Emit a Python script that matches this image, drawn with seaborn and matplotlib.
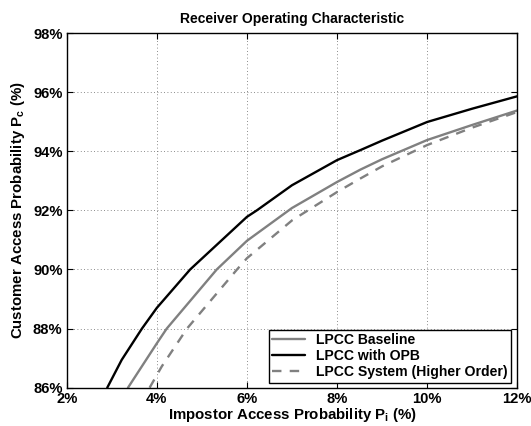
import matplotlib
matplotlib.use("Agg")
import matplotlib.pyplot as plt
import seaborn as sns
import pandas as pd
from matplotlib.ticker import FuncFormatter

# Data (percent)
opb_x = [2.90, 3.22, 3.67, 4.00, 4.74, 6.00, 6.22, 7.00, 8.00, 8.52, 9.00, 10.00, 11.00, 12.00]
opb_y = [86.00, 86.94, 88.00, 88.70, 90.00, 91.78, 92.00, 92.85, 93.70, 94.04, 94.36, 94.99, 95.44, 95.86]

base_x = [3.36, 4.00, 4.22, 5.33, 6.00, 7.00, 8.00, 8.52, 9.00, 10.00, 11.00, 12.00]
base_y = [86.00, 87.50, 88.00, 90.00, 90.97, 92.08, 92.96, 93.38, 93.73, 94.38, 94.89, 95.38]

high_x = [3.84, 4.11, 4.67, 5.78, 6.00, 7.00, 8.00, 8.52, 9.00, 10.00, 11.00, 12.00]
high_y = [86.00, 86.72, 88.00, 90.00, 90.38, 91.66, 92.62, 93.08, 93.49, 94.21, 94.80, 95.33]

x_ticks = [2, 4, 6, 8, 10, 12]
y_ticks = [86, 88, 90, 92, 94, 96, 98]

sns.set_style("ticks")
plt.rcParams['font.family'] = ['Liberation Sans', 'DejaVu Sans']
plt.rcParams['font.weight'] = 'bold'
plt.rcParams['text.color'] = 'black'
plt.rcParams['axes.labelcolor'] = 'black'
plt.rcParams['mathtext.fontset'] = 'custom'
plt.rcParams['mathtext.rm'] = 'Liberation Sans:bold'
plt.rcParams['mathtext.it'] = 'Liberation Sans:bold'
plt.rcParams['mathtext.bf'] = 'Liberation Sans:bold'

fig = plt.figure(figsize=(5.31, 4.26), dpi=100)
ax = fig.add_axes([0.1256, 0.0899, 0.8486, 0.8326])

df_base = pd.DataFrame({"x": base_x, "y": base_y})
df_opb = pd.DataFrame({"x": opb_x, "y": opb_y})
df_high = pd.DataFrame({"x": high_x, "y": high_y})

sns.lineplot(data=df_base, x="x", y="y", ax=ax, color="#808080", lw=1.7,
             sort=False, label="LPCC Baseline")
sns.lineplot(data=df_opb, x="x", y="y", ax=ax, color="black", lw=1.7,
             sort=False, label="LPCC with OPB")
sns.lineplot(data=df_high, x="x", y="y", ax=ax, color="#808080", lw=1.7,
             sort=False, label="LPCC System (Higher Order)", linestyle=(0, (4, 3.5)))

ax.set_xlim(2, 12)
ax.set_ylim(86, 98)
ax.set_xticks(x_ticks)
ax.set_yticks(y_ticks)
fmt = FuncFormatter(lambda v, p: f"{int(round(v))}%")
ax.xaxis.set_major_formatter(fmt)
ax.yaxis.set_major_formatter(fmt)
ax.tick_params(direction='in', length=4, width=0.8, labelsize=10.6,
               top=True, right=True, colors='black', pad=3)
for lab in ax.get_xticklabels() + ax.get_yticklabels():
    lab.set_fontweight('bold')

ax.grid(True, linestyle=(0, (1, 3)), color='#666666', linewidth=0.6)
for s in ax.spines.values():
    s.set_linewidth(1.0)
    s.set_color('black')

ax.set_title("Receiver Operating Characteristic", fontsize=10, fontweight='bold',
             pad=7, color='black')
ax.set_xlabel(r"Impostor Access Probability P$_{\mathrm{i}}$ (%)", fontsize=10.8,
              fontweight='bold', labelpad=0, color='black')
ax.set_ylabel(r"Customer Access Probability P$_{\mathrm{c}}$ (%)", fontsize=10.8,
              fontweight='bold', labelpad=4, color='black')

leg = ax.legend(loc='lower right', bbox_to_anchor=(0.986, 0.014), fontsize=10.1,
                frameon=True, fancybox=False, edgecolor='black', framealpha=1,
                handlelength=2.3, borderpad=0.25, labelspacing=0.15, handletextpad=0.8,
                borderaxespad=0)
leg.get_frame().set_linewidth(1.0)
for t in leg.get_texts():
    t.set_fontweight('bold')
    t.set_color('black')

fig.savefig("out.png", dpi=100)
